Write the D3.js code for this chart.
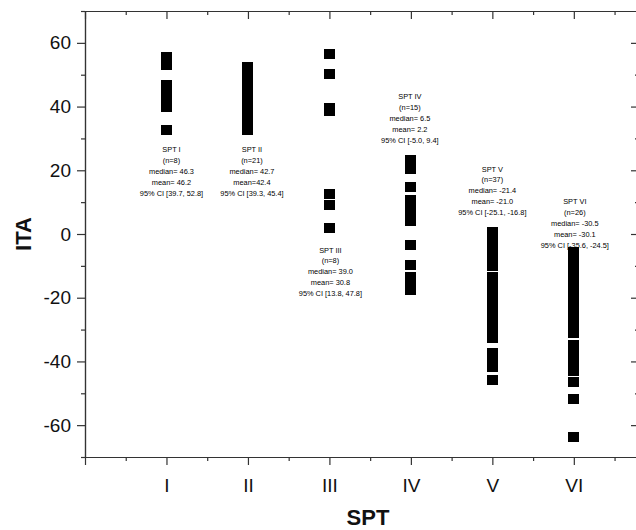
<!DOCTYPE html>
<html>
<head>
    <meta charset="utf-8">
    <style>
        body {
            margin: 0;
            background: #ffffff;
            font-family: "Liberation Sans", Arial, Helvetica, sans-serif;
        }

        .axis path,
        .axis line {
            stroke: #333;
            stroke-width: 1.2;
        }

        .axis text {
            font-size: 19px;
            fill: #111;
            font-family: "Liberation Sans", Arial, sans-serif;
        }

        .axis-title {
            font-size: 22px;
            font-weight: bold;
            fill: #111;
        }

        .note {
            font-size: 7.4px;
            fill: #000;
        }
    </style>
</head>
<body>
    <div id="chart"></div>
    <script src="https://cdnjs.cloudflare.com/ajax/libs/d3/7.8.5/d3.min.js"></script>
    <script>
        // SPT groups and the ITA value of each case
        const groups = ["I", "II", "III", "IV", "V", "VI"];

        const itaI = [32.7, 40.0, 42.9, 45.9, 46.7, 52.9, 53.5, 55.6];
        const itaII = [32.7, 34.0, 35.5, 37.0, 38.4, 39.5, 40.0, 41.0, 41.5, 42.0, 42.7,
            43.2, 44.0, 44.5, 45.0, 45.5, 46.0, 47.0, 48.5, 50.0, 52.5];
        const itaIII = [2.0, 9.1, 12.4, 38.6, 39.4, 39.6, 50.1, 56.5];
        const itaIV = [-17.5, -15.5, -13.4, -9.6, -3.6, 4.1, 5.5, 6.5, 7.2, 8.0, 9.0,
            10.6, 14.9, 20.3, 23.2];
        const itaV = [0.7, -0.5, -2.0, -3.0, -4.5, -5.5, -6.5, -7.5, -8.5, -10.0,
            -13.5, -15.0, -16.5, -17.5, -18.5, -19.5, -20.0, -21.0, -21.4, -22.5, -24.0,
            -25.5, -26.5, -27.5, -28.5, -29.5, -30.5, -31.0, -31.5, -32.0, -32.5, -32.7,
            -32.7, -37.2, -39.4, -41.6, -45.8];
        const itaVI = [-5.6, -8.0, -10.5, -13.0, -15.5, -18.0, -20.5, -23.0, -25.5,
            -27.5, -28.5, -29.5, -30.0, -31.0, -31.1, -31.1, -34.7, -36.5, -38.0, -39.0,
            -40.5, -42.0, -43.0, -46.5, -51.9, -63.8];
        const itaValues = [itaI, itaII, itaIII, itaIV, itaV, itaVI];

        // summary figures printed over each column
        const counts = [8, 21, 8, 15, 37, 26];
        const medians = [46.3, 42.7, 39.0, 6.5, -21.4, -30.5];
        const means = [46.2, 42.4, 30.8, 2.2, -21.0, -30.1];
        const ciLow = [39.7, 39.3, 13.8, -5.0, -25.1, -35.6];
        const ciHigh = [52.8, 45.4, 47.8, 9.4, -16.8, -24.5];

        const yMajor = [-60, -40, -20, 0, 20, 40, 60];
        const yMinor = [-70, -50, -30, -10, 10, 30, 50, 70];

        const width = 636;
        const height = 530;

        // where each note block starts (baseline of first line) and its nudge
        const noteTop = [152, 152, 252.5, 99, 171.5, 204];
        const noteDx = [5, 4, 1, -1, 0, 1];
        const lineGap = 10.9;

        const svg = d3.select("#chart")
            .append("svg")
            .attr("width", width)
            .attr("height", height);

        const x = d3.scaleLinear().domain([0, 6.8]).range([85, 639]);
        const y = d3.scaleLinear().domain([-70, 70]).range([457, 11]);

        const xMajor = d3.range(0, 7);
        const xMinor = d3.range(0.5, 7, 1);

        // bottom axis
        svg.append("g")
            .attr("class", "axis")
            .attr("transform", `translate(0,${y(-70)})`)
            .call(d3.axisBottom(x).tickValues(xMajor).tickSize(8).tickSizeOuter(0).tickPadding(14)
                .tickFormat(d => d >= 1 ? groups[d - 1] : ""));
        svg.append("g")
            .attr("class", "axis")
            .attr("transform", `translate(0,${y(-70)})`)
            .call(d3.axisBottom(x).tickValues(xMinor).tickSize(4).tickSizeOuter(0).tickFormat(""));

        // top axis, ticks inward
        svg.append("g")
            .attr("class", "axis")
            .attr("transform", `translate(0,${y(70)})`)
            .call(d3.axisTop(x).tickValues(xMajor).tickSize(-8).tickSizeOuter(0).tickFormat(""));
        svg.append("g")
            .attr("class", "axis")
            .attr("transform", `translate(0,${y(70)})`)
            .call(d3.axisTop(x).tickValues(xMinor).tickSize(-4).tickSizeOuter(0).tickFormat(""));

        // left axis (plain hyphen for negatives, as in the figure)
        svg.append("g")
            .attr("class", "axis")
            .attr("transform", `translate(${x(0)},0)`)
            .call(d3.axisLeft(y).tickValues(yMajor).tickSize(8).tickSizeOuter(0).tickPadding(6)
                .tickFormat(d => String(d)));
        svg.append("g")
            .attr("class", "axis")
            .attr("transform", `translate(${x(0)},0)`)
            .call(d3.axisLeft(y).tickValues(yMinor).tickSize(4).tickSizeOuter(0).tickFormat(""));

        // right axis, ticks inward (mostly cut off by the frame)
        svg.append("g")
            .attr("class", "axis")
            .attr("transform", `translate(${x(6.8)},0)`)
            .call(d3.axisRight(y).tickValues(yMajor).tickSize(-8).tickSizeOuter(0).tickFormat(""));
        svg.append("g")
            .attr("class", "axis")
            .attr("transform", `translate(${x(6.8)},0)`)
            .call(d3.axisRight(y).tickValues(yMinor).tickSize(-4).tickSizeOuter(0).tickFormat(""));

        // one black square per case
        const points = itaValues.flatMap((vals, i) => vals.map(v => ({ g: i + 1, v: v })));

        svg.append("g")
            .attr("shape-rendering", "crispEdges")
            .selectAll("rect")
            .data(points)
            .enter()
            .append("rect")
            .attr("x", d => x(d.g) - 5.5)
            .attr("y", d => y(d.v) - 5)
            .attr("width", 11)
            .attr("height", 10)
            .attr("fill", "#000");

        // notes
        const fmt = v => v.toFixed(1);
        groups.forEach((g, i) => {
            const lines = [
                `SPT ${g}`,
                `(n=${counts[i]})`,
                `median= ${fmt(medians[i])}`,
                i === 1 ? `mean=${fmt(means[i])}` : `mean= ${fmt(means[i])}`,
                `95% CI [${fmt(ciLow[i])}, ${fmt(ciHigh[i])}]`
            ];
            svg.append("g")
                .selectAll("text")
                .data(lines)
                .enter()
                .append("text")
                .attr("class", "note")
                .attr("x", x(i + 1) + noteDx[i])
                .attr("y", (d, j) => noteTop[i] + j * lineGap)
                .attr("text-anchor", "middle")
                .text(d => d);
        });

        // axis titles
        svg.append("text")
            .attr("class", "axis-title")
            .attr("transform", `translate(31,${y(0)}) rotate(-90)`)
            .attr("text-anchor", "middle")
            .text("ITA");

        svg.append("text")
            .attr("class", "axis-title")
            .attr("x", 368)
            .attr("y", 525)
            .attr("text-anchor", "middle")
            .text("SPT");
    </script>
</body>
</html>
